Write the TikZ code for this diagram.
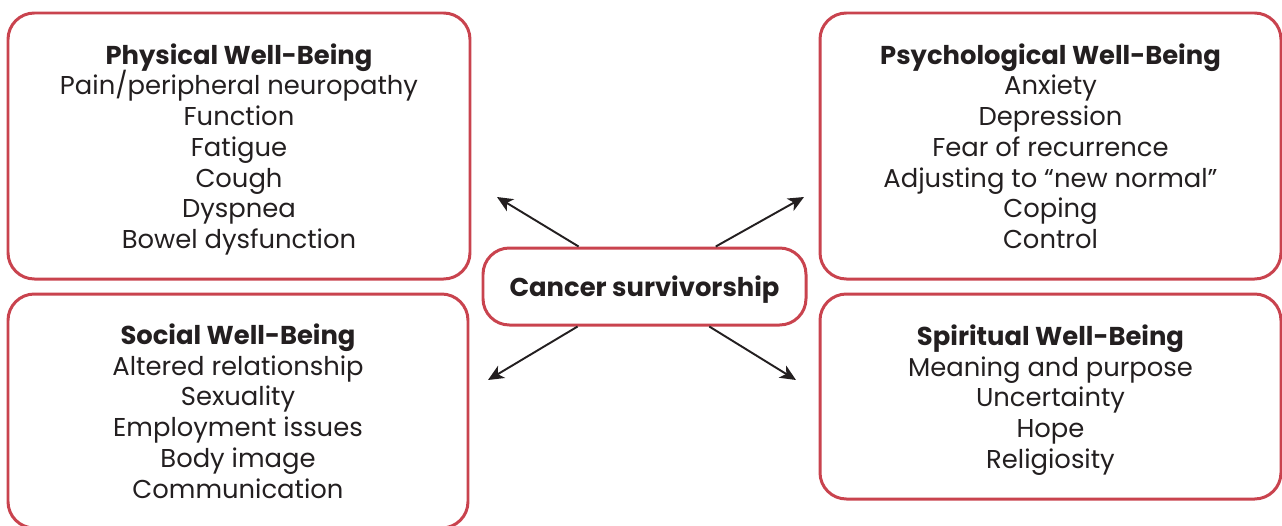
\documentclass[tikz,border=0pt]{standalone}
\usepackage{fontspec}
\setmainfont{Poppins}
\usepackage{tikz}
\usetikzlibrary{arrows.meta}
\definecolor{boxred}{RGB}{201,67,78}
\definecolor{inkgray}{RGB}{35,31,32}
\newcommand{\boxfont}{\fontsize{14.7}{17.5}\selectfont\lineskiplimit=-10pt\relax\lineskip=0pt\relax}
\tikzset{
  wellbox/.style={draw=boxred, line width=1.7pt, rounded corners=15pt, fill=white,
    align=center, text=inkgray, inner sep=0pt, text depth=0pt,
    font=\boxfont},
  arr/.style={-{Stealth[length=9pt,width=8pt,inset=2.5pt]}, line width=1.1pt, draw=inkgray},
}

\begin{document}
\begin{tikzpicture}[x=0.02cm,y=-0.02cm]
      % Page frame (pixel grid of the reference)
      \useasboundingbox (0,0) rectangle (1282,525);

      % Four boxes round the centre
      \node[wellbox, minimum width=462*0.02cm, minimum height=266*0.02cm] (physical) at (239,146)
        {\textbf{Physical Well-Being}\\Pain/peripheral neuropathy\\Function\\Fatigue\\Cough\\Dyspnea\\Bowel dysfunction};
      \node[wellbox, minimum width=461*0.02cm, minimum height=266*0.02cm] (psych) at (1050.5,146)
        {\textbf{Psychological Well-Being}\\Anxiety\\Depression\\Fear of recurrence\\Adjusting to “new normal”\\Coping\\Control};
      \node[wellbox, minimum width=460*0.02cm, minimum height=234*0.02cm] (social) at (238,411)
        {\textbf{Social Well-Being}\\Altered relationship\\Sexuality\\Employment issues\\Body image\\Communication};
      \node[wellbox, minimum width=461*0.02cm, minimum height=205*0.02cm] (spiritual) at (1050.5,396.5)
        {\textbf{Spiritual Well-Being}\\Meaning and purpose\\Uncertainty\\Hope\\Religiosity};

      % Centre box
      \node[wellbox, minimum width=323*0.02cm, minimum height=77*0.02cm] (centre) at (644.5,286.5)
        {\textbf{Cancer survivorship}};

      % Arrow tips
      \coordinate (tipphys) at (497,197);
      \coordinate (tippsych) at (804,197);
      \coordinate (tipsocial) at (488,380);
      \coordinate (tipspirit) at (796,380);

      % Arrows out of the centre
      \draw[arr] (centre) -- (tipphys);
      \draw[arr] (centre) -- (tippsych);
      \draw[arr] (centre) -- (tipsocial);
      \draw[arr] (centre) -- (tipspirit);
    \end{tikzpicture}
\end{document}
